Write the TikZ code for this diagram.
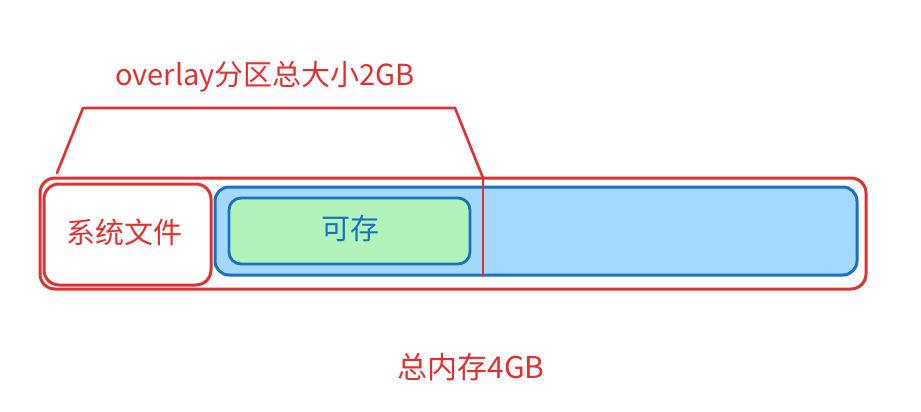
\documentclass[tikz,border=0pt]{standalone}
\usepackage{fontspec}
\setmainfont{Noto Sans CJK SC}
\definecolor{xred}{HTML}{E03131}
\definecolor{xblue}{HTML}{1971C2}
\definecolor{xlblue}{HTML}{A5D8FF}
\definecolor{xgreen}{HTML}{B2F2BB}
\begin{document}
\begin{tikzpicture}[x=1pt,y=-1pt,
  redbox/.style={draw=xred,line width=3pt,rounded corners=15pt},
  bluebox/.style={draw=xblue,fill=xlblue,line width=3pt,rounded corners=14pt},
  greenbox/.style={draw=xblue,fill=xgreen,line width=2.8pt,rounded corners=12pt},
  redline/.style={draw=xred,line width=2.6pt,line cap=round,line join=round},
  lbl/.style={inner sep=0pt,font=\fontsize{27}{30}\selectfont}]
\useasboundingbox (0,0) rectangle (921,412);
\draw[redbox] (40,178) rectangle (866,289);
\draw[redbox] (44,184) rectangle (211,285);
\draw[bluebox] (215,187) rectangle (857,275);
\draw[greenbox] (229,198) rectangle (470,264);
\coordinate (vt) at (483,178);
\coordinate (vb) at (483,276);
\draw[redline] (vt) -- (vb);
\coordinate (b1) at (57,173);
\coordinate (b2) at (83,108);
\coordinate (b3) at (455,108);
\draw[redline] (b1) -- (b2) -- (b3) -- (vt);
\node[lbl,text=xred,font=\fontsize{29}{32}\selectfont] (t1) at (265,77) {overlay分区总大小2GB};
\node[lbl,text=xred,font=\fontsize{29}{32}\selectfont] (t2) at (124,232) {系统文件};
\node[lbl,text=xblue,font=\fontsize{29}{32}\selectfont] (t3) at (350,228) {可存};
\node[lbl,text=xred,font=\fontsize{30}{33}\selectfont] (t4) at (471,367) {总内存4GB};
\end{tikzpicture}
\end{document}
